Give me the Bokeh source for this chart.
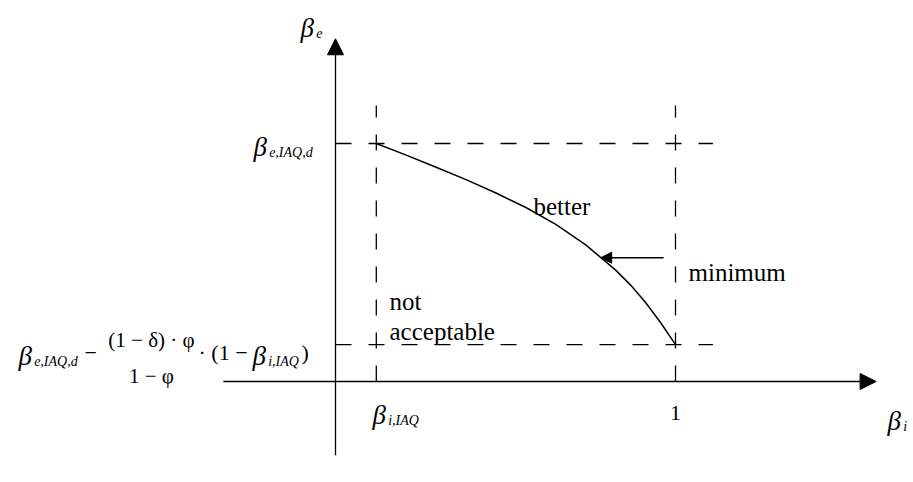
from bokeh.plotting import figure
from bokeh.models import Range1d, Label, Arrow, NormalHead
from bokeh.embed import file_html
from bokeh.resources import INLINE

# --- schematic values (axis units: beta_i horizontally, beta_e vertically) ---
beta_i_iaq = 0.12          # lower limit of beta_i
beta_i_max = 1.0           # beta_i = 1
beta_e_iaq_d = 1.0         # design value of beta_e
beta_e_min = 0.155         # beta_e at beta_i = 1

# minimum curve, from (beta_i_iaq, beta_e_iaq_d) to (1, beta_e_min)
curve_bi = [0.120, 0.208, 0.296, 0.384, 0.472, 0.560, 0.648, 0.736, 0.824, 0.868, 0.912, 0.956, 1.000]
curve_be = [1.000, 0.951, 0.900, 0.848, 0.792, 0.731, 0.660, 0.574, 0.468, 0.405, 0.332, 0.248, 0.155]

W, H = 913, 482
X0_PX, Y0_PX = 335, 381     # screen position of the origin
SX, SY = 340.0, 238.0       # pixels per unit

x_range = Range1d(-X0_PX / SX, (W - X0_PX) / SX)
y_range = Range1d(-(H - Y0_PX) / SY, Y0_PX / SY)

p = figure(width=W, height=H, x_range=x_range, y_range=y_range,
           output_backend="svg", toolbar_location=None, min_border=0)
p.axis.visible = False
p.grid.visible = False
p.outline_line_color = None
p.background_fill_color = "white"
p.border_fill_color = "white"

SERIF = "Liberation Serif"


def head(size):
    return NormalHead(size=size, fill_color="black", line_color="black", line_width=1)


# axes with arrow heads
p.add_layout(Arrow(end=head(16), x_start=-0.33, y_start=0, x_end=1.59, y_end=0,
                   line_width=1.3, line_color="black"))
p.add_layout(Arrow(end=head(16), x_start=0, y_start=-0.31, x_end=0, y_end=1.44,
                   line_width=1.3, line_color="black"))

# dashed guide lines
dash = "16 17"
p.line([0, 1.11], [beta_e_iaq_d, beta_e_iaq_d], line_dash=dash, line_color="black", line_width=1.3)
p.line([0, 1.11], [beta_e_min, beta_e_min], line_dash=dash, line_color="black", line_width=1.3)
p.line([beta_i_iaq, beta_i_iaq], [0, 1.16], line_dash=dash, line_color="black", line_width=1.3)
p.line([beta_i_max, beta_i_max], [0, 1.16], line_dash=dash, line_color="black", line_width=1.3)

# minimum curve
p.line(curve_bi, curve_be, line_color="black", line_width=1.5)

# arrow pointing at the curve
p.add_layout(Arrow(end=head(11), x_start=0.965, y_start=0.52, x_end=0.78, y_end=0.52,
                   line_width=1.3, line_color="black"))


def lab(x, y, text, size=22, style="normal", align="left"):
    p.add_layout(Label(x=x, y=H - y, x_units="screen", y_units="screen", text=text,
                       text_font=SERIF, text_font_size=f"{size}px",
                       text_font_style=style, text_align=align,
                       text_baseline="alphabetic", text_color="black"))


def beta(x, y, sub, size=27):
    lab(x, y, "β", size=size, style="italic")
    lab(x + size * 0.58, y + size * 0.22, sub, size=round(size * 0.52), style="italic")


# axis titles
beta(300, 27, "e")
beta(887, 420, "i")

# y-axis labels
beta(253, 146, "e,IAQ,d")
beta(18, 355, "e,IAQ,d")
lab(84, 352, "−", size=22)
lab(151, 339, "(1 − δ) · φ", size=21, align="center")
lab(151, 375, "1 − φ", size=21, align="center")
lab(198, 352, "· (1 − ", size=22)
beta(252, 355, "i,IAQ")
lab(301, 352, ")", size=22)

# x-axis labels
beta(372, 414, "i,IAQ")
lab(675, 412, "1", size=22, align="center")

# region annotations
lab(533, 206, "better", size=25)
lab(688, 272, "minimum", size=25)
lab(389, 301, "not", size=25)
lab(389, 331, "acceptable", size=25)

open("out.html", "w").write(file_html(p, INLINE))
